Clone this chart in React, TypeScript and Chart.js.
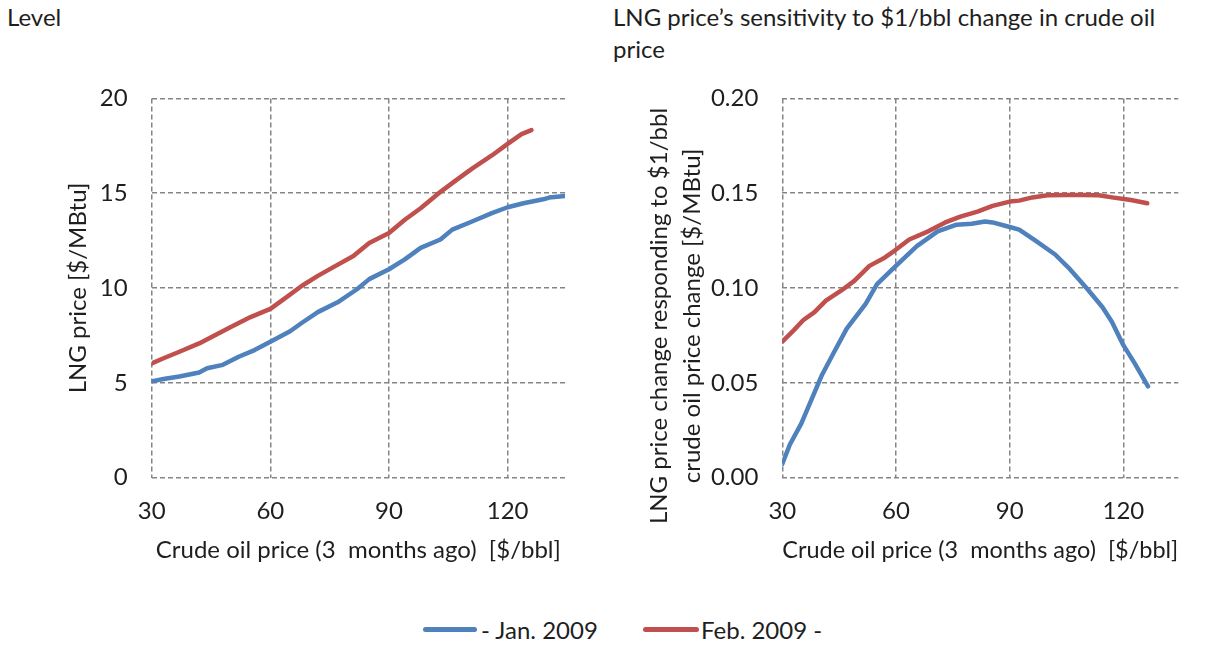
import React, { useEffect, useRef } from "react";
import { Chart, registerables } from "chart.js";

Chart.register(...registerables);

// ---------- data ----------
const xTicks = [30, 60, 90, 120];
const levelTicks = [0, 5, 10, 15, 20];
const sensTicks = [0, 0.05, 0.1, 0.15, 0.2];

const seriesNames = ["- Jan. 2009", "Feb. 2009 -"];

// Left panel: LNG price level
const levelJanX = [30, 33, 37, 42, 44, 48, 52, 56, 60, 65, 68, 72, 77, 82, 85, 90, 94, 98, 103, 106, 111, 116, 120, 124, 129, 130.5, 134.5];
const levelJanY = [5.08, 5.2, 5.34, 5.55, 5.77, 5.95, 6.38, 6.73, 7.17, 7.72, 8.17, 8.73, 9.25, 9.95, 10.47, 10.99, 11.51, 12.12, 12.56, 13.08, 13.51, 13.95, 14.26, 14.47, 14.68, 14.77, 14.85];
const levelFebX = [30, 33, 37, 42, 46, 50, 55, 60, 63.5, 68, 72, 76.5, 81, 85, 90, 94, 98, 102.5, 107, 111, 116, 120, 123.5, 126];
const levelFebY = [6.03, 6.3, 6.64, 7.08, 7.51, 7.95, 8.47, 8.9, 9.43, 10.12, 10.64, 11.17, 11.69, 12.38, 12.9, 13.6, 14.21, 14.99, 15.69, 16.3, 16.99, 17.6, 18.12, 18.33];

// Right panel: sensitivity to $1/bbl
const sensJanX = [30, 32, 35, 37.5, 40.5, 43.5, 47, 52, 55, 59.5, 65.5, 71, 76, 80, 83.5, 85.5, 90, 92.5, 97, 102, 105.5, 110.5, 114.5, 117, 120, 123, 126.5];
const sensJanY = [0.0073, 0.0175, 0.0285, 0.0403, 0.0543, 0.0656, 0.0786, 0.0917, 0.1021, 0.1108, 0.1221, 0.1299, 0.1334, 0.1339, 0.1351, 0.1346, 0.1322, 0.1308, 0.1247, 0.1177, 0.1108, 0.0995, 0.0899, 0.0821, 0.0699, 0.0603, 0.0482];
const sensFebX = [30, 33, 35.5, 38.5, 41.5, 45.5, 49, 53, 57, 59.5, 63.5, 68.5, 73, 77, 81.5, 85.5, 90, 92.5, 96, 100, 105, 109.5, 113.5, 117, 122, 126.3];
const sensFebY = [0.0717, 0.0777, 0.083, 0.0873, 0.0934, 0.0986, 0.1038, 0.1117, 0.116, 0.1195, 0.1256, 0.1299, 0.1346, 0.1377, 0.1403, 0.1433, 0.1456, 0.1461, 0.1478, 0.1489, 0.149, 0.149, 0.1489, 0.1478, 0.1464, 0.1447];

// ---------- style ----------
const BLUE = "#4F81BD";
const RED = "#C0504D";
const TEXT = "#1e1e1e";
const GRID = "#858585";
const FONT = "Lato";
const FS = 24;

Chart.defaults.font.family = FONT;
Chart.defaults.color = TEXT;

const pts = (xs: number[], ys: number[]) => xs.map((x, i) => ({ x, y: ys[i] }));

type PanelProps = {
  left: number;
  width: number;
  janX: number[];
  janY: number[];
  febX: number[];
  febY: number[];
  yTicks: number[];
  yDecimals: number;
  yTitle: string | string[];
  sideTitle: boolean; // draw the y title with the chart's title plugin on the left
  padLeft: number;
  padBottom: number;
  yWidth: number;
  xHeight: number;
  xTitlePadBottom: number;
  padRight: number;
};

const TOP = 60;
const HEIGHT = 540;

function Panel(p: PanelProps) {
  const ref = useRef<HTMLCanvasElement>(null);
  useEffect(() => {
    const ymin = p.yTicks[0];
    const ymax = p.yTicks[p.yTicks.length - 1];
    const chart = new Chart(ref.current!, {
      type: "line",
      data: {
        datasets: [
          { label: seriesNames[0], data: pts(p.janX, p.janY), borderColor: BLUE, backgroundColor: BLUE },
          { label: seriesNames[1], data: pts(p.febX, p.febY), borderColor: RED, backgroundColor: RED },
        ],
      },
      options: {
        animation: false,
        responsive: false,
        layout: { padding: { left: p.padLeft, right: p.padRight, top: 34, bottom: p.padBottom } },
        plugins: {
          legend: { display: false },
          tooltip: { enabled: false },
          title: {
            display: p.sideTitle,
            position: "left",
            fullSize: true,
            text: p.yTitle as any,
            color: TEXT,
            font: { size: FS, weight: "normal", lineHeight: 33 / FS },
            padding: { top: 4, bottom: 0 },
          },
        },
        elements: {
          point: { radius: 0, hoverRadius: 0 },
          line: { tension: 0, borderWidth: 4.5, borderCapStyle: "round", borderJoinStyle: "round" },
        },
        scales: {
          x: {
            type: "linear",
            min: 30,
            max: 134.5,
            afterBuildTicks: (ax: any) => {
              ax.ticks = xTicks.map((v) => ({ value: v }));
            },
            afterFit: (s: any) => {
              s.height = p.xHeight;
            },
            grid: { color: GRID, lineWidth: 1.5, drawTicks: false },
            border: { display: false, dash: [5, 3] },
            ticks: { padding: 19.4, font: { size: FS }, color: TEXT },
            title: {
              display: true,
              text: "Crude oil price (3  months ago)  [$/bbl]",
              font: { size: FS },
              color: TEXT,
              padding: { top: 4, bottom: p.xTitlePadBottom },
            },
          },
          y: {
            type: "linear",
            min: ymin,
            max: ymax,
            afterBuildTicks: (ax: any) => {
              ax.ticks = p.yTicks.map((v) => ({ value: v }));
            },
            afterFit: (s: any) => {
              s.width = p.yWidth;
            },
            grid: { color: GRID, lineWidth: 1.5, drawTicks: false },
            border: { display: false, dash: [5, 3] },
            ticks: {
              padding: 24,
              font: { size: FS },
              color: TEXT,
              callback: (v: any) => Number(v).toFixed(p.yDecimals),
            },
            title: {
              display: !p.sideTitle,
              text: p.yTitle as any,
              font: { size: FS },
              color: TEXT,
              padding: 4,
            },
          },
        },
      },
    });
    return () => chart.destroy();
  }, []);
  return (
    <canvas
      ref={ref}
      width={p.width}
      height={HEIGHT}
      style={{ position: "absolute", left: p.left, top: TOP, width: p.width, height: HEIGHT, display: "block" }}
    />
  );
}

export default function App() {
  const textStyle: React.CSSProperties = {
    position: "absolute",
    fontFamily: FONT,
    fontSize: FS,
    lineHeight: "32px",
    color: TEXT,
    whiteSpace: "nowrap",
  };
  return (
    <div
      style={{
        position: "fixed",
        left: 0,
        top: 0,
        width: 1205,
        height: 647,
        background: "#fff",
        overflow: "hidden",
      }}
    >
      <div style={{ ...textStyle, left: 7, top: 0.7 }}>Level</div>
      <div style={{ ...textStyle, left: 613, top: 0.7 }}>
        LNG price’s sensitivity to $1/bbl change in crude oil
        <br />
        price
      </div>

      <Panel
        left={0}
        width={600}
        janX={levelJanX}
        janY={levelJanY}
        febX={levelFebX}
        febY={levelFebY}
        yTicks={levelTicks}
        yDecimals={0}
        yTitle="LNG price [$/MBtu]"
        sideTitle={false}
        padLeft={59.6}
        padBottom={30.9}
        yWidth={92.1}
        xHeight={91.4}
        xTitlePadBottom={4}
        padRight={35}
      />
      <Panel
        left={600}
        width={605}
        janX={sensJanX}
        janY={sensJanY}
        febX={sensFebX}
        febY={sensFebY}
        yTicks={sensTicks}
        yDecimals={2}
        yTitle={["LNG price change responding to $1/bbl", "crude oil price change [$/MBtu]"]}
        sideTitle={true}
        padLeft={39.2}
        padBottom={62}
        yWidth={73.1}
        xHeight={60.3}
        xTitlePadBottom={-27.1}
        padRight={26.7}
      />

      {/* legend */}
      <div style={{ position: "absolute", left: 422.7, top: 626.8, width: 54, height: 5, background: BLUE, borderRadius: 2.5 }} />
      <div style={{ ...textStyle, left: 481, top: 614 }}>{seriesNames[0]}</div>
      <div style={{ position: "absolute", left: 642.7, top: 626.8, width: 56, height: 5, background: RED, borderRadius: 2.5 }} />
      <div style={{ ...textStyle, left: 701, top: 614 }}>{seriesNames[1]}</div>
    </div>
  );
}
